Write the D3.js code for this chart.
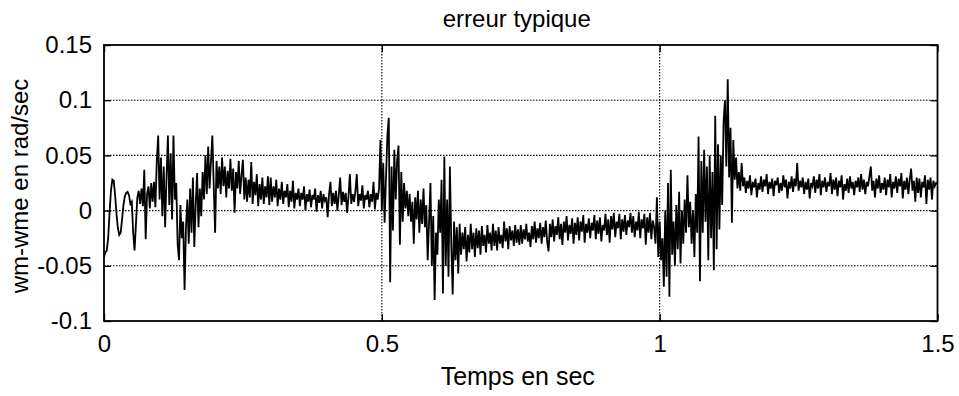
<!DOCTYPE html>
<html>
<head>
<meta charset="utf-8">
<script src="https://cdn.jsdelivr.net/npm/d3@7"></script>
<style>
  html, body { margin: 0; padding: 0; background: #fff; }
  svg { display: block; }
  text { font-family: "Liberation Sans", Arial, Helvetica, sans-serif; fill: #000; }
</style>
</head>
<body>
<svg id="chart" width="959" height="396"></svg>
<script>
// Speed error wm - wme (rad/sec), sampled every 2.5 ms from 0 to 1.5 s
const sampleStep = 0.0025;
const errorValues = [
  // 0.00 - 0.0475
  -0.042, -0.038, -0.036, -0.025, -0.002, 0.018, 0.028, 0.027, 0.014, -0.003,
  -0.016, -0.022, -0.020, -0.008, 0.005, 0.013, 0.016, 0.017, 0.014, 0.006,
  // 0.05 - 0.0975
  0.008, -0.020, -0.036, -0.012, 0.012, 0.018, 0.006, 0.020, 0.004, 0.037,
  -0.026, 0.015, 0.022, 0.002, 0.025, 0.008, 0.026, 0.003, 0.045, 0.068,
  // 0.10 - 0.1475
  0.010, 0.048, -0.005, 0.040, -0.015, 0.030, 0.068, 0.005, 0.052, -0.008,
  0.068, 0.010, 0.025, -0.030, -0.045, 0.005, -0.025, -0.010, -0.072, -0.015,
  // 0.15 - 0.1975
  0.010, -0.030, 0.020, -0.020, 0.030, -0.033, 0.005, 0.034, -0.015, 0.020,
  -0.005, 0.035, 0.010, 0.050, 0.015, 0.058, 0.020, 0.045, 0.068, 0.022,
  // 0.20 - 0.2475
  -0.020, 0.045, 0.020, 0.040, 0.015, 0.048, 0.022, 0.040, 0.012, 0.036,
  0.020, 0.047, 0.018, 0.038, -0.002, 0.035, 0.020, 0.045, 0.015, 0.032,
  // 0.25 - 0.2975
  0.046, 0.010, 0.030, 0.008, 0.028, 0.012, 0.044, 0.006, 0.026, 0.014,
  0.033, 0.004, 0.024, 0.010, 0.030, 0.006, 0.022, 0.012, 0.031, 0.005,
  // 0.30 - 0.3475
  0.030, 0.008, 0.022, 0.012, 0.028, 0.004, 0.020, 0.010, 0.026, 0.006,
  0.018, 0.012, 0.024, 0.003, 0.018, 0.008, 0.027, 0.002, 0.016, 0.010,
  // 0.35 - 0.3975
  0.020, 0.004, 0.016, 0.010, 0.022, 0.000, 0.015, 0.008, 0.019, 0.003,
  0.014, 0.010, 0.020, -0.001, 0.014, 0.007, 0.018, 0.002, 0.015, 0.009,
  // 0.40 - 0.4475
  0.012, -0.006, 0.015, 0.026, 0.004, 0.016, 0.006, 0.018, 0.000, 0.014,
  0.030, 0.005, 0.017, 0.008, 0.016, -0.002, 0.013, 0.033, 0.006, 0.015,
  // 0.45 - 0.4975
  0.008, 0.018, 0.033, 0.004, 0.015, 0.009, 0.023, 0.002, 0.014, 0.010,
  0.018, 0.003, 0.015, 0.008, 0.026, 0.001, 0.016, 0.010, 0.020, 0.064,
  // 0.50 - 0.5475
  0.000, 0.043, -0.011, 0.030, 0.068, 0.084, -0.065, 0.040, -0.018, 0.055,
  0.010, 0.045, 0.059, -0.031, 0.035, -0.010, 0.025, 0.002, 0.018, -0.005,
  // 0.55 - 0.5975
  0.015, -0.010, 0.008, -0.030, 0.012, -0.008, 0.018, -0.020, 0.010, -0.012,
  0.020, -0.015, 0.005, -0.045, -0.010, 0.025, -0.050, -0.005, -0.081, -0.020,
  // 0.60 - 0.6475
  -0.040, 0.010, -0.020, 0.028, -0.075, 0.049, -0.050, 0.010, -0.060, 0.040,
  -0.030, -0.076, -0.010, -0.045, -0.015, -0.057, -0.012, -0.040, -0.020, -0.035,
  // 0.65 - 0.6975
  -0.015, -0.046, -0.022, -0.038, -0.012, -0.035, -0.020, -0.042, -0.016, -0.034,
  -0.018, -0.040, -0.014, -0.032, -0.022, -0.038, -0.013, -0.030, -0.020, -0.036,
  // 0.70 - 0.7475
  -0.012, -0.032, -0.018, -0.036, -0.015, -0.030, -0.022, -0.034, -0.010, -0.028,
  -0.016, -0.035, -0.014, -0.027, -0.018, -0.032, -0.013, -0.029, -0.017, -0.031,
  // 0.75 - 0.7975
  -0.013, -0.030, -0.017, -0.026, -0.012, -0.028, -0.020, -0.033, -0.014, -0.026,
  -0.010, -0.029, -0.016, -0.025, -0.011, -0.030, -0.015, -0.024, -0.009, -0.028,
  // 0.80 - 0.8475
  -0.037, -0.012, -0.024, -0.008, -0.028, -0.014, -0.022, -0.006, -0.026, -0.012,
  -0.031, -0.010, -0.020, -0.005, -0.027, -0.013, -0.021, -0.007, -0.030, -0.011,
  // 0.85 - 0.8975
  -0.022, -0.006, -0.027, -0.010, -0.019, -0.004, -0.029, -0.012, -0.020, -0.007,
  -0.025, -0.011, -0.018, -0.004, -0.026, -0.009, -0.021, -0.006, -0.028, -0.013,
  // 0.90 - 0.9475
  -0.018, -0.003, -0.022, -0.008, -0.029, -0.005, -0.017, -0.002, -0.024, -0.010,
  -0.016, -0.003, -0.026, -0.008, -0.019, -0.004, -0.022, -0.009, -0.015, -0.002,
  // 0.95 - 0.9975
  -0.020, -0.005, -0.024, -0.010, -0.018, -0.001, -0.025, -0.008, -0.016, -0.003,
  -0.031, -0.006, -0.020, -0.002, -0.026, -0.009, -0.015, -0.030, 0.012, -0.042,
  // 1.00 - 1.0475
  -0.010, -0.045, -0.025, -0.069, 0.000, -0.060, 0.025, -0.078, 0.037, -0.040,
  -0.010, -0.050, 0.005, -0.035, 0.017, -0.048, 0.000, -0.030, 0.010, -0.020,
  // 1.05 - 1.0975
  0.032, -0.015, 0.008, -0.030, 0.000, -0.042, 0.015, -0.020, 0.067, -0.064,
  0.045, -0.020, 0.055, -0.010, 0.040, -0.045, 0.050, -0.025, 0.035, -0.054,
  // 1.10 - 1.1475
  0.086, -0.035, 0.060, -0.017, 0.050, 0.005, 0.080, 0.100, 0.040, 0.119,
  0.030, 0.075, -0.011, 0.064, 0.028, 0.048, 0.020, 0.035, 0.018, 0.043,
  // 1.15 - 1.1975
  0.022, 0.030, 0.016, 0.027, 0.020, 0.032, 0.014, 0.026, 0.021, 0.029,
  0.012, 0.025, 0.019, 0.031, 0.017, 0.028, 0.022, 0.033, 0.015, 0.026,
  // 1.20 - 1.2475
  0.020, 0.029, 0.013, 0.027, 0.023, 0.030, 0.016, 0.025, 0.018, 0.032,
  0.021, 0.028, 0.011, 0.026, 0.020, 0.031, 0.017, 0.029, 0.022, 0.043,
  // 1.25 - 1.2975
  0.018, 0.027, 0.021, 0.030, 0.015, 0.026, 0.019, 0.029, 0.011, 0.025,
  0.022, 0.031, 0.016, 0.028, 0.020, 0.033, 0.014, 0.027, 0.021, 0.030,
  // 1.30 - 1.3475
  0.017, 0.026, 0.022, 0.034, 0.015, 0.028, 0.019, 0.030, 0.013, 0.027,
  0.021, 0.032, 0.010, 0.024, 0.018, 0.029, 0.016, 0.031, 0.020, 0.026,
  // 1.35 - 1.3975
  0.014, 0.027, 0.021, 0.030, 0.017, 0.033, 0.019, 0.028, 0.015, 0.026,
  0.022, 0.031, 0.040, 0.018, 0.027, 0.012, 0.029, 0.020, 0.032, 0.016,
  // 1.40 - 1.4475
  0.025, 0.019, 0.030, 0.014, 0.028, 0.021, 0.033, 0.012, 0.026, 0.020,
  0.031, 0.016, 0.029, 0.022, 0.034, 0.011, 0.027, 0.019, 0.030, 0.015,
  // 1.45 - 1.5
  0.028, 0.038, 0.018, 0.027, 0.008, 0.030, 0.016, 0.029, 0.012, 0.026,
  0.021, 0.032, 0.006, 0.028, 0.019, 0.030, 0.010, 0.027, 0.022, 0.025,
  0.024
];

const xTickValues = [0, 0.5, 1, 1.5];
const xTickLabels = ["0", "0.5", "1", "1.5"];
const yTickValues = [-0.1, -0.05, 0, 0.05, 0.1, 0.15];
const yTickLabels = ["-0.1", "-0.05", "0", "0.05", "0.1", "0.15"];

const titleText = "erreur typique";
const xLabelText = "Temps en sec";
const yLabelText = "wm-wme en rad/sec";

const svg = d3.select("#chart");
const plotLeft = 104, plotRight = 937.5, plotTop = 45, plotBottom = 321;

const x = d3.scaleLinear().domain([0, 1.5]).range([plotLeft, plotRight]);
const y = d3.scaleLinear().domain([-0.1, 0.15]).range([plotBottom, plotTop]);

// dotted grid
const grid = svg.append("g").attr("stroke", "#000").attr("stroke-width", 1.1)
  .attr("stroke-dasharray", "1.5,1.5");
grid.selectAll(".gx").data(xTickValues.slice(1, -1)).join("line")
  .attr("x1", d => x(d)).attr("x2", d => x(d))
  .attr("y1", plotTop).attr("y2", plotBottom);
grid.selectAll(".gy").data(yTickValues.slice(1, -1)).join("line")
  .attr("x1", plotLeft).attr("x2", plotRight)
  .attr("y1", d => y(d)).attr("y2", d => y(d));

// signal
const series = errorValues.map((v, i) => ({ t: i * sampleStep, v }));
const line = d3.line().x(d => x(d.t)).y(d => y(d.v));
svg.append("path")
  .datum(series)
  .attr("fill", "none")
  .attr("stroke", "#000")
  .attr("stroke-width", 1.8)
  .attr("stroke-linejoin", "miter")
  .attr("d", line);

// axes with inward ticks
const tickFont = 24;
const labelFont = 24;
const xAxis = d3.axisBottom(x).tickValues(xTickValues)
  .tickFormat((d, i) => xTickLabels[i]).tickSizeInner(-7).tickSizeOuter(0).tickPadding(14);
const yAxis = d3.axisLeft(y).tickValues(yTickValues)
  .tickFormat((d, i) => yTickLabels[i]).tickSizeInner(-7).tickSizeOuter(0).tickPadding(12);

function styleAxis(g) {
  g.select(".domain").remove();
  g.selectAll(".tick line").attr("stroke", "#000").attr("stroke-width", 1.4);
  g.selectAll(".tick text").attr("font-size", tickFont)
    .attr("font-family", "'Liberation Sans', Arial, sans-serif").attr("fill", "#000");
}

svg.append("g").attr("transform", `translate(0,${plotBottom})`).call(xAxis).call(styleAxis);
svg.append("g").attr("transform", `translate(${plotLeft},0)`).call(yAxis).call(styleAxis);
svg.append("g").attr("transform", `translate(0,${plotTop})`)
  .call(d3.axisTop(x).tickValues(xTickValues).tickFormat("").tickSizeInner(-7).tickSizeOuter(0))
  .call(styleAxis);
svg.append("g").attr("transform", `translate(${plotRight},0)`)
  .call(d3.axisRight(y).tickValues(yTickValues).tickFormat("").tickSizeInner(-7).tickSizeOuter(0))
  .call(styleAxis);

// frame
svg.append("rect")
  .attr("x", plotLeft).attr("y", plotTop)
  .attr("width", plotRight - plotLeft).attr("height", plotBottom - plotTop)
  .attr("fill", "none").attr("stroke", "#000").attr("stroke-width", 1.8);

// titles
svg.append("text")
  .attr("x", (plotLeft + plotRight) / 2 - 4).attr("y", 27)
  .attr("text-anchor", "middle").attr("font-size", labelFont)
  .text(titleText);
svg.append("text")
  .attr("x", (plotLeft + plotRight) / 2 - 3).attr("y", 385)
  .attr("text-anchor", "middle").attr("font-size", labelFont + 1)
  .text(xLabelText);
svg.append("text")
  .attr("transform", `translate(28,${(plotTop + plotBottom) / 2 + 3}) rotate(-90)`)
  .attr("text-anchor", "middle").attr("font-size", labelFont)
  .text(yLabelText);
</script>
</body>
</html>
